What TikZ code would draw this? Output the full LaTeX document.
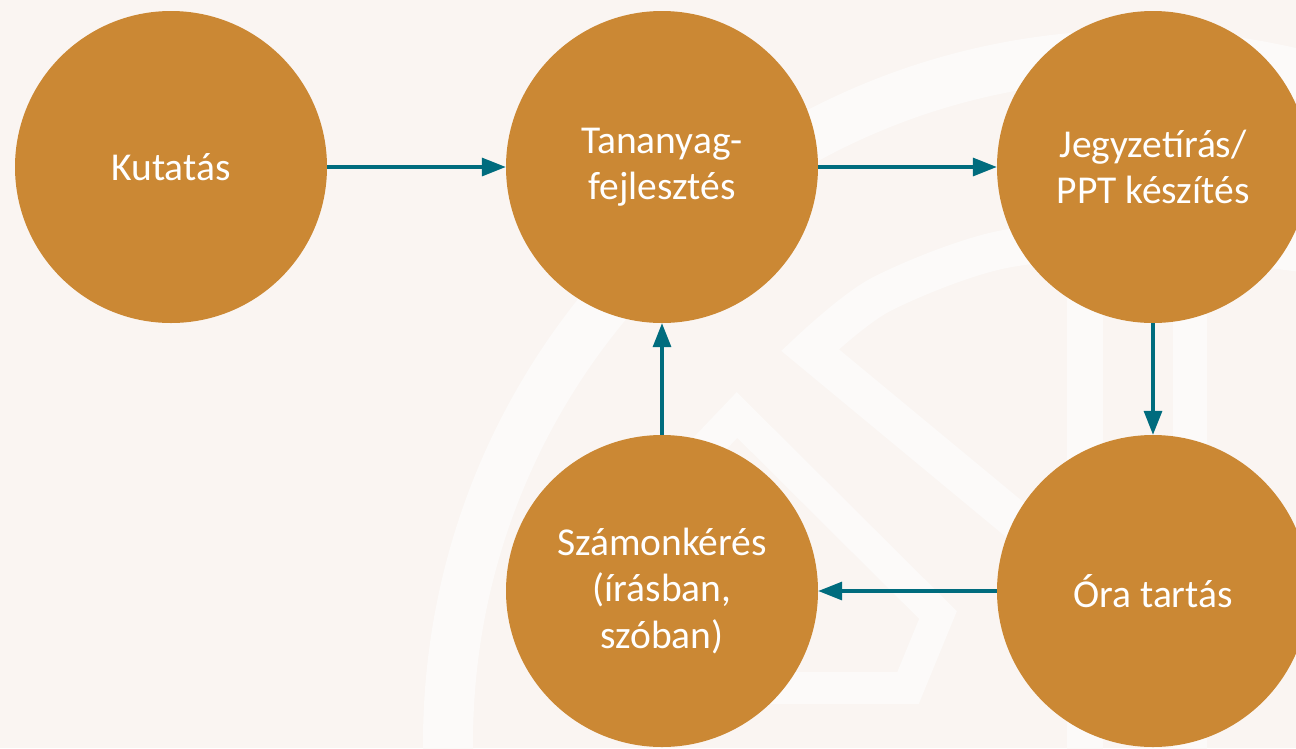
\documentclass[tikz,border=0pt]{standalone}
\usepackage{fontspec}
\setmainfont{Carlito}
\usetikzlibrary{arrows.meta}
\definecolor{bg}{HTML}{FAF5F2}
\definecolor{wm}{HTML}{FCFAF9}
\definecolor{ochre}{HTML}{CB8834}
\definecolor{arrowteal}{HTML}{006C7E}
\begin{document}
\begin{tikzpicture}[x=1pt,y=-1pt,
  stage/.style={circle, fill=ochre, minimum size=312pt, inner sep=0pt, align=center,
    text=white, font=\fontsize{39.5}{46.5}\selectfont},
  flow/.style={draw=arrowteal, line width=3.3pt, -{Triangle[length=24pt,width=18pt]}},
  band/.style={draw=wm, line join=miter, line width=#1}]
\fill[bg] (0,0) rectangle (1296,748);
\useasboundingbox (0,0) rectangle (1296,748);
\begin{scope}
\clip (0,0) rectangle (1296,748);
% faint watermark
\draw[band=50pt] (1136,743) circle[radius=688];
\draw[band=38pt] plot[smooth] coordinates {(1310,254) (1150,238) (1000,250) (880,295) (810,350)} -- (1130,615);
\draw[band=32pt] (675,480) -- (737,415) -- (938,615) -- (908,688) -- (700,688);
\draw[band=36pt] (1085,280) -- (1085,760);
\draw[band=34pt] (1190,280) -- (1190,760);
% stages
\node[stage] (kut) at (171,167) {Kutatás};
\node[stage] (tan) at (662,167) {Tananyag-\\fejlesztés};
\node[stage] (jegy) at (1153,167) {Jegyzetírás/\\PPT készítés};
\node[stage] (ora) at (1153,591) {Óra tartás};
\node[stage] (szam) at (662,591) {Számonkérés\\(írásban,\\szóban)};
\end{scope}
\draw[flow] (kut) -- (tan);
\draw[flow] (tan) -- (jegy);
\draw[flow] (jegy) -- (ora);
\draw[flow] (ora) -- (szam);
\draw[flow] (szam) -- (tan);
\end{tikzpicture}
\end{document}
